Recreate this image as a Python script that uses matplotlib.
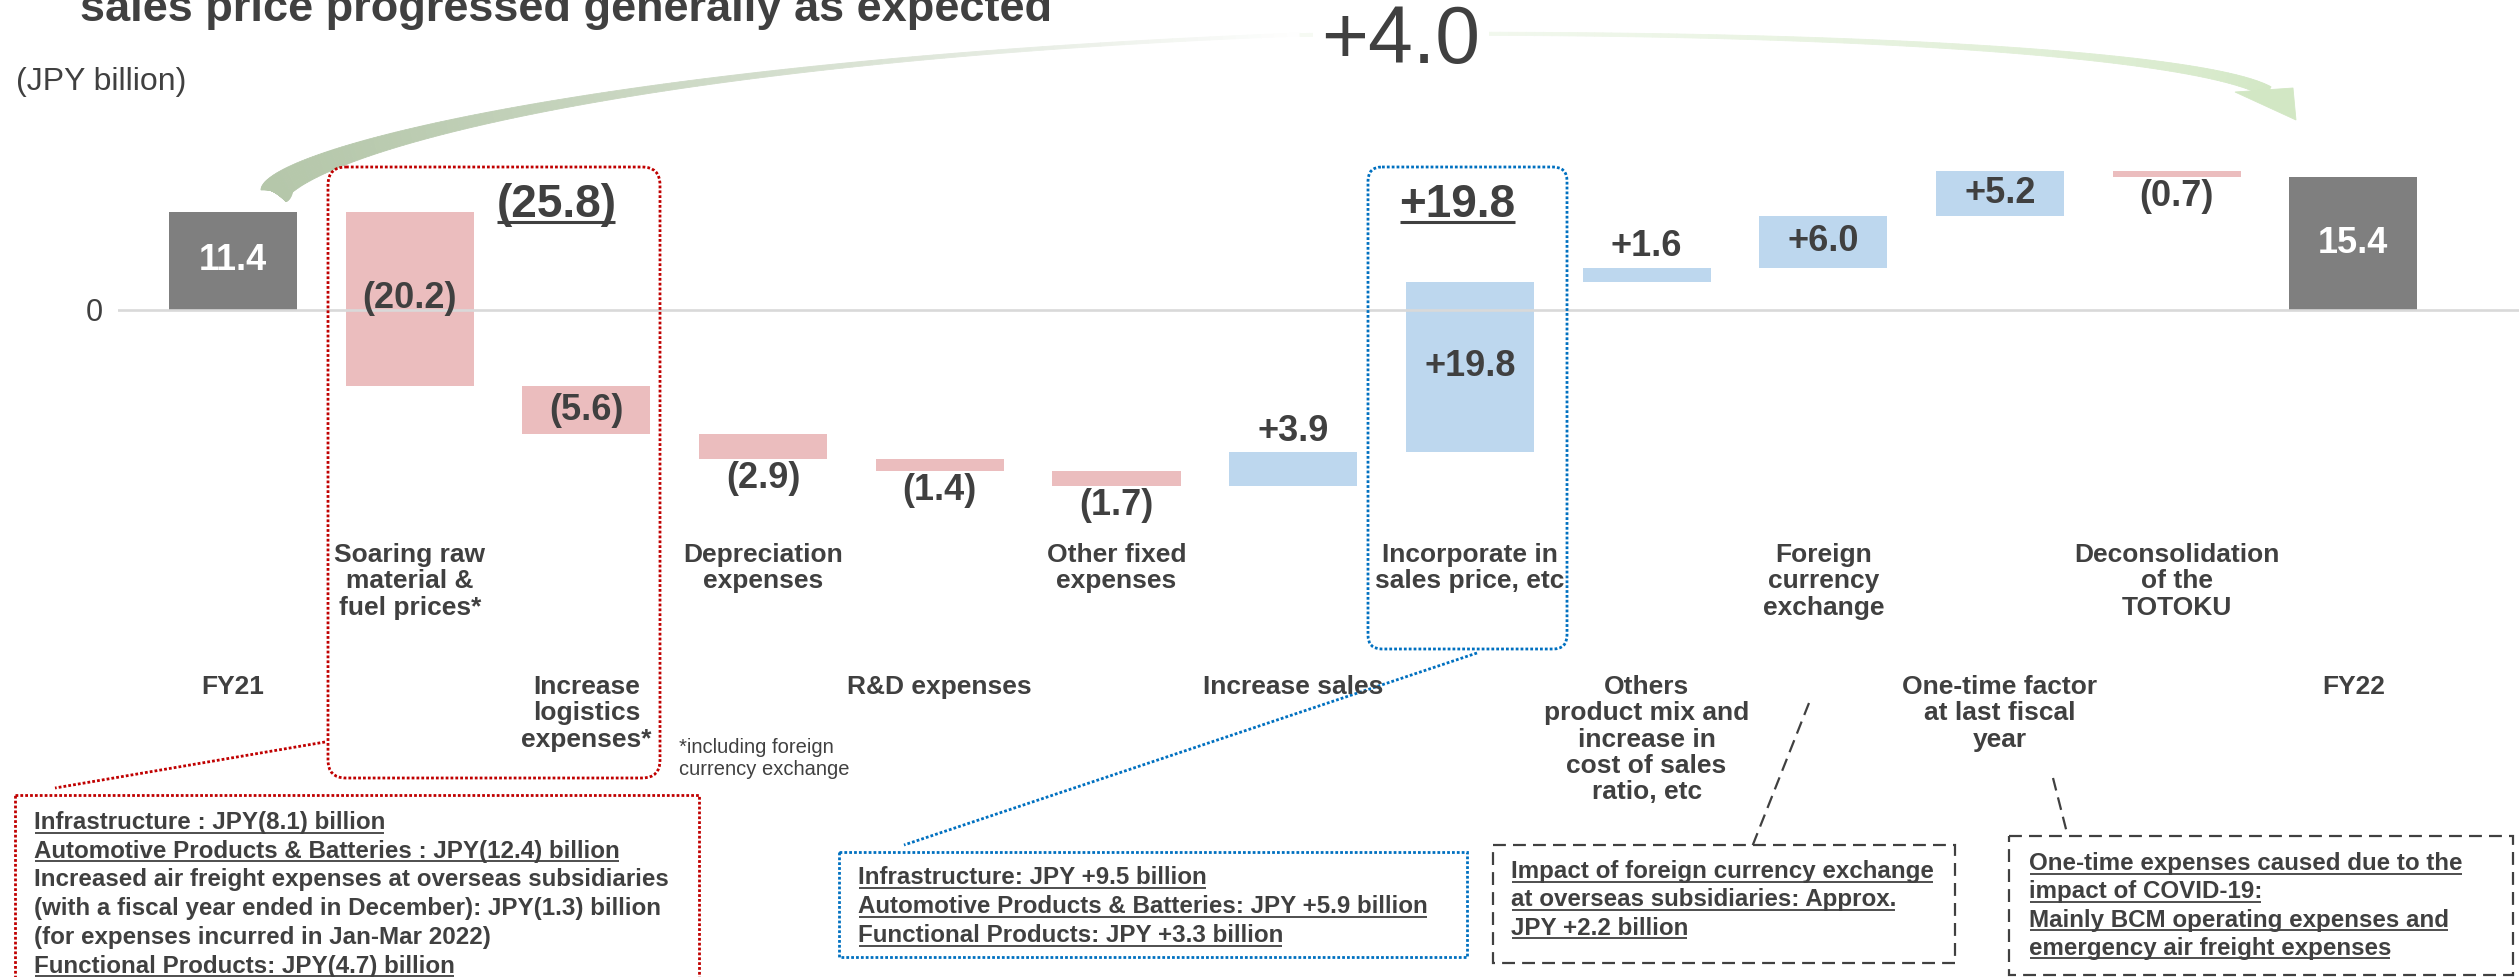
import numpy as np
import matplotlib
matplotlib.use("Agg")
import matplotlib.pyplot as plt
from matplotlib import transforms
from matplotlib.patches import Polygon, FancyBboxPatch, Rectangle

plt.rcParams['font.family'] = ['Liberation Sans', 'DejaVu Sans']

# ---------------- data (JPY billion) ----------------
categories = [
    "FY21",
    "Soaring raw\nmaterial &\nfuel prices*",
    "Increase\nlogistics\nexpenses*",
    "Depreciation\nexpenses",
    "R&D expenses",
    "Other fixed\nexpenses",
    "Increase sales",
    "Incorporate in\nsales price, etc",
    "Others\nproduct mix and\nincrease in\ncost of sales\nratio, etc",
    "Foreign\ncurrency\nexchange",
    "One-time factor\nat last fiscal\nyear",
    "Deconsolidation\nof the\nTOTOKU",
    "FY22",
]
fy21_total = 11.4
changes = [-20.2, -5.6, -2.9, -1.4, -1.7, 3.9, 19.8, 1.6, 6.0, 5.2, -0.7]
fy22_total = 15.4

title = "sales price progressed generally as expected"
unit_label = "(JPY billion)"
footnote = ["*including foreign", "currency exchange"]

cost_notes = [
    "Infrastructure : JPY(8.1) billion",
    "Automotive Products & Batteries : JPY(12.4) billion",
    "Increased air freight expenses at overseas subsidiaries",
    "(with a fiscal year ended in December): JPY(1.3) billion",
    "(for expenses incurred in Jan-Mar 2022)",
    "Functional Products: JPY(4.7) billion",
]
cost_notes_underlined = [True, True, False, False, False, True]
price_notes = [
    "Infrastructure: JPY +9.5 billion",
    "Automotive Products & Batteries: JPY +5.9 billion",
    "Functional Products: JPY +3.3 billion",
]
fx_notes = [
    "Impact of foreign currency exchange",
    "at overseas subsidiaries: Approx.",
    "JPY +2.2 billion",
]
onetime_notes = [
    "One-time expenses caused due to the",
    "impact of COVID-19:",
    "Mainly BCM operating expenses and",
    "emergency air freight expenses",
]

# ---------------- styling ----------------
TEXT = '#404040'
TOTAL_C = '#7f7f7f'
NEG_C = '#ebbdbe'
POS_C = '#bdd7ee'
RED = '#c00000'
BLUE = '#0070c0'

W, H, DPI = 2519, 977, 100
fig = plt.figure(figsize=(W / DPI, H / DPI), dpi=DPI)
fig.patch.set_facecolor('white')

# waterfall geometry (figure pixels)
LEFT_PX = 118
X0_PX, STEP_PX = 233, 176.7
Y0_PX, UNIT_PX = 310, 8.63

ax = fig.add_axes([LEFT_PX / W, 0, 1 - LEFT_PX / W, 1])
ax.set_xlim((LEFT_PX - X0_PX) / STEP_PX, (W - X0_PX) / STEP_PX)
ax.set_ylim((Y0_PX - H) / UNIT_PX, Y0_PX / UNIT_PX)
for s in ax.spines.values():
    s.set_visible(False)
ax.set_xticks([])
ax.set_yticks([0])
ax.set_yticklabels(['0'])
ax.tick_params(axis='y', length=0, pad=11, labelsize=22, labelcolor=TEXT)
ax.axhline(0, color='#d9d9d9', lw=1.9, zorder=2.5)

# overlay canvas in pixel units for annotations
ov = fig.add_axes([0, 0, 1, 1], zorder=3)
ov.set_xlim(0, W)
ov.set_ylim(H, 0)
ov.axis('off')
blend = transforms.blended_transform_factory(ax.transData, ov.transData)

# ---------------- bars ----------------
n = len(categories)
xs = np.arange(n)
levels = np.concatenate([[fy21_total], fy21_total + np.cumsum(changes)])
bottoms = [0.0]
heights = [fy21_total]
colors = [TOTAL_C]
for k, d in enumerate(changes):
    prev = levels[k]
    bottoms.append(min(prev, prev + d))
    heights.append(abs(d))
    colors.append(POS_C if d > 0 else NEG_C)
bottoms.append(0.0)
heights.append(fy22_total)
colors.append(TOTAL_C)
ax.bar(xs, heights, bottom=bottoms, width=0.725, color=colors, zorder=2)


def fmt(d):
    return f"+{d:.1f}" if d > 0 else f"({abs(d):.1f})"


VAL = dict(fontsize=26, fontweight='bold', ha='center', va='center', zorder=4)
ax.text(0, fy21_total / 2, f"{fy21_total:.1f}", color='white', **VAL)
ax.text(n - 1, fy22_total / 2, f"{fy22_total:.1f}", color='white', **VAL)
for k, d in enumerate(changes):
    i = k + 1
    lo, hi = bottoms[i], bottoms[i] + heights[i]
    if abs(d) >= 5:
        ax.text(i, (lo + hi) / 2, fmt(d), color=TEXT, **VAL)
    elif d > 0:
        ax.annotate(fmt(d), (i, hi), xytext=(0, 15), textcoords='offset points',
                    color=TEXT, **VAL)
    else:
        ax.annotate(fmt(d), (i, lo), xytext=(0, -14), textcoords='offset points',
                    color=TEXT, **VAL)

renderer = fig.canvas.get_renderer()


def underline(t, y, off=4, lw=1.3):
    bb = t.get_window_extent(renderer=renderer)
    ov.plot([bb.x0 + 1, bb.x1 - 1], [y + off, y + off], color=TEXT, lw=lw,
            solid_capstyle='butt')


# group totals
grp_cost = sum(changes[0:2])
grp_price = changes[6]
for gx, gval in [(1.83, grp_cost), (6.93, grp_price)]:
    t = ov.text(gx, 217, fmt(gval), transform=blend, ha='center', va='baseline',
                fontsize=33, fontweight='bold', color=TEXT)
    underline(t, 217, off=5, lw=2.2)

# category labels
LINE_DY = 26.3
for i, lab in enumerate(categories):
    y0 = 562 if i % 2 else 694
    for k, line in enumerate(lab.split('\n')):
        ov.text(i, y0 + k * LINE_DY, line, transform=blend, ha='center',
                va='baseline', fontsize=19, fontweight='bold', color=TEXT)

# ---------------- texts ----------------
ov.text(80, 21, title, fontsize=32.5, fontweight='bold', color=TEXT, va='baseline')
ov.text(16, 90, unit_label, fontsize=23, color=TEXT, va='baseline')
for k, line in enumerate(footnote):
    ov.text(679, 753 + k * 22, line, fontsize=14.5, color=TEXT, va='baseline')

# ---------------- curved total-change arrow ----------------
def cubic(P, t):
    P = np.asarray(P, float)
    t = np.asarray(t)[:, None]
    return ((1 - t) ** 3) * P[0] + 3 * ((1 - t) ** 2) * t * P[1] + \
        3 * (1 - t) * (t ** 2) * P[2] + (t ** 3) * P[3]


def cubic_d(P, t):
    P = np.asarray(P, float)
    t = np.asarray(t)[:, None]
    return 3 * ((1 - t) ** 2) * (P[1] - P[0]) + 6 * (1 - t) * t * (P[2] - P[1]) + \
        3 * (t ** 2) * (P[3] - P[2])


def unit_normals(d):
    nn = np.stack([-d[:, 1], d[:, 0]], axis=1)
    return nn / np.linalg.norm(nn, axis=1, keepdims=True)


def mix(c1, c2, f):
    return tuple(np.array(c1) * (1 - f) + np.array(c2) * f)


WHITE = (1, 1, 1)
SAGE = (181 / 255, 199 / 255, 170 / 255)
MINT = (210 / 255, 231 / 255, 196 / 255)
N = 160

left_edge = [(261, 190), (261, 150), (600, 60), (1300, 33)]
t = np.linspace(0, 1, N + 1)
outer = cubic(left_edge, t)
nrm = unit_normals(cubic_d(left_edge, t))
inner = outer + nrm * (3 + 29 * (1 - t) ** 2)[:, None]
for k in range(N):
    c = mix(SAGE, WHITE, min(1.0, t[k] ** 2.5))
    ov.add_patch(Polygon([outer[k], outer[k + 1], inner[k + 1], inner[k]],
                         closed=True, fc=c, ec=c, lw=0.6))

right_center = [(1300, 35), (1800, 28), (2200, 52), (2268, 92)]
s = np.linspace(0, 1, N + 1)
cen = cubic(right_center, s)
nrm = unit_normals(cubic_d(right_center, s))
half = ((3 + 9 * s ** 2) / 2)[:, None]
up, lo = cen - nrm * half, cen + nrm * half
for k in range(N):
    c = mix(WHITE, MINT, min(1.0, 0.2 + 0.8 * s[k]))
    ov.add_patch(Polygon([up[k], up[k + 1], lo[k + 1], lo[k]],
                         closed=True, fc=c, ec=c, lw=0.6))
ov.add_patch(Polygon([(2235, 92), (2293, 88), (2296, 120)], closed=True,
                     fc=MINT, ec=MINT, lw=0.6))

ov.text(1401, 63, f"+{fy22_total - fy21_total:.1f}", fontsize=58, color=TEXT,
        ha='center', va='baseline',
        bbox=dict(facecolor='white', edgecolor='none', pad=6))

# ---------------- callout boxes ----------------
DOT = (0, (1, 0.75))
DASH = (0, (5.8, 3.2))


def rounded(x0, y0, x1, y1, color, ls, lw, r):
    ov.add_patch(FancyBboxPatch((x0, y0), x1 - x0, y1 - y0,
                                boxstyle=f"round,pad=0,rounding_size={r}",
                                fill=False, ec=color, lw=lw, ls=ls))


def rect(x0, y0, x1, y1, color, ls, lw):
    ov.add_patch(Rectangle((x0, y0), x1 - x0, y1 - y0, fill=False, ec=color,
                           lw=lw, ls=ls))


rounded(328, 167, 660, 778, RED, DOT, 2.0, 18)
rounded(1368, 167, 1567, 649, BLUE, DOT, 2.0, 14)
rect(15, 795, 699, 1010, RED, DOT, 2.0)
rect(839, 852, 1467, 957, BLUE, DOT, 2.0)
rect(1493, 845, 1955, 963, TEXT, DASH, 1.6)
rect(2009, 836, 2513, 975, TEXT, DASH, 1.6)

ov.plot([325, 55], [742, 788], color=RED, lw=2.0, ls=DOT)
ov.plot([1477, 904], [653, 845], color=BLUE, lw=2.0, ls=DOT)
ov.plot([1809, 1752], [703, 847], color=TEXT, lw=1.6, ls=DASH)
ov.plot([2053, 2067], [778, 833], color=TEXT, lw=1.6, ls=DASH)

NOTE = dict(fontsize=17.4, fontweight='bold', color=TEXT, va='baseline')


def note_block(lines, x, y0, dy, flags):
    for k, (line, u) in enumerate(zip(lines, flags)):
        y = y0 + k * dy
        tt = ov.text(x, y, line, **NOTE)
        if u:
            underline(tt, y, off=3.5, lw=1.3)


note_block(cost_notes, 34, 829, 28.7, cost_notes_underlined)
note_block(price_notes, 858, 884, 29, [True] * len(price_notes))
note_block(fx_notes, 1511, 878, 28.3, [True] * len(fx_notes))
note_block(onetime_notes, 2029, 870, 28.3, [True] * len(onetime_notes))

fig.savefig('out.png', dpi=DPI)
